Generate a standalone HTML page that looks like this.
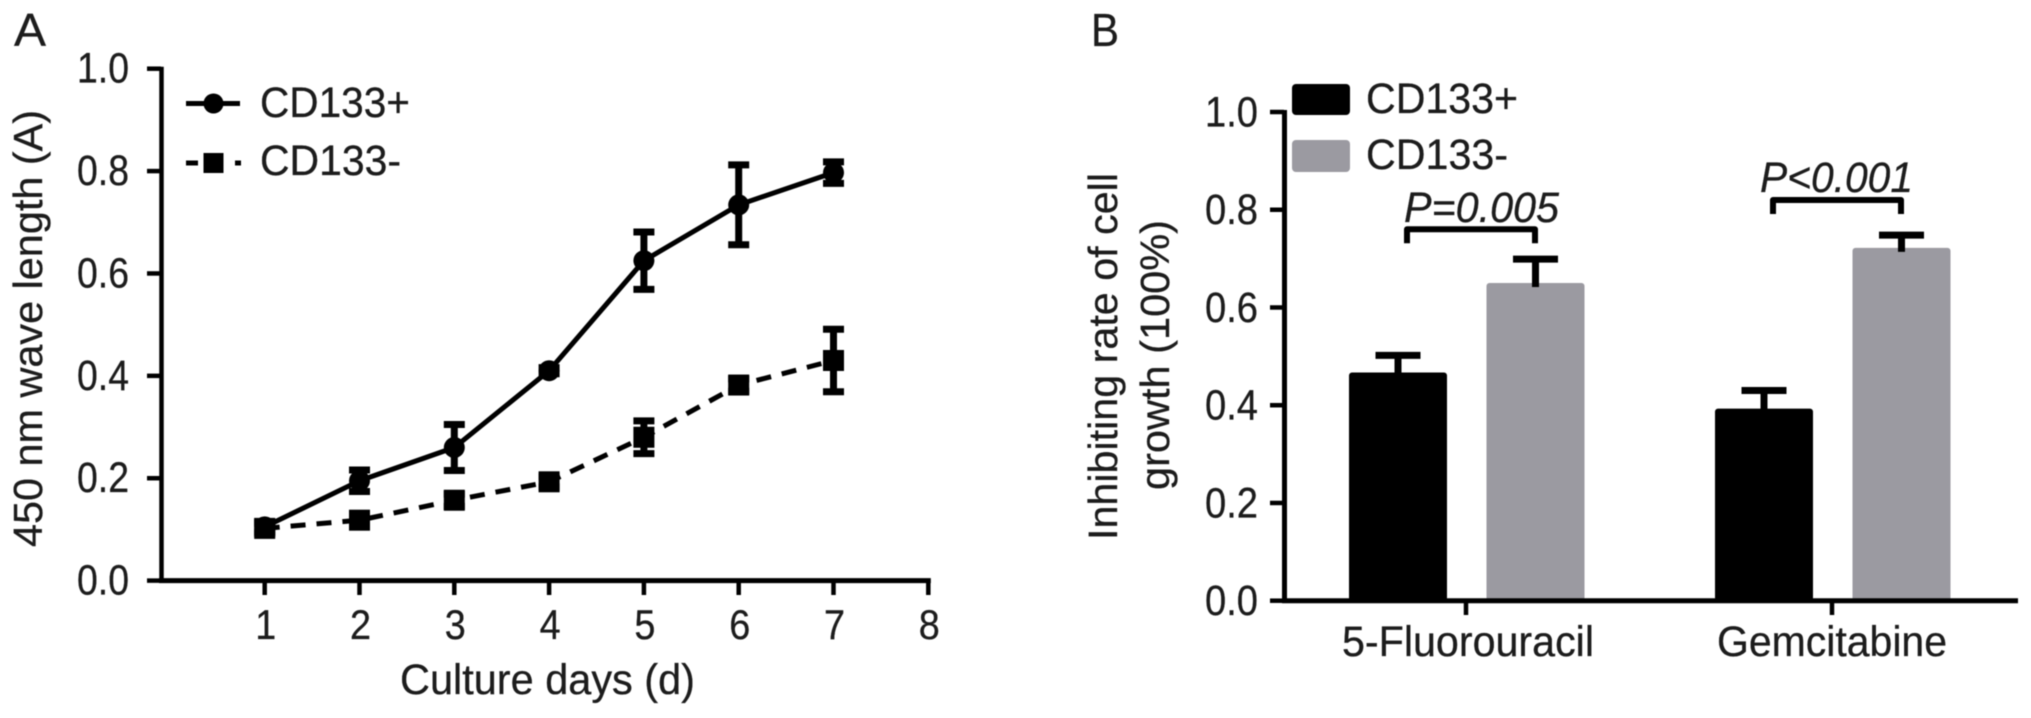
<!DOCTYPE html>
<html lang="en">
<head>
<meta charset="utf-8">
<title>CD133 cell growth and inhibition charts</title>
<style>
html,body{margin:0;padding:0;background:#fff;width:2031px;height:718px;overflow:hidden}
svg{display:block;filter:blur(0.6px)}
text{font-family:"Liberation Sans",sans-serif;fill:#1c1c1c;stroke:#1c1c1c;stroke-width:0.3px}
</style>
</head>
<body>
<svg id="figure" xmlns="http://www.w3.org/2000/svg" width="2031" height="718" viewBox="0 0 2031 718">
  <text x="14" y="46" font-size="46" textLength="32" lengthAdjust="spacingAndGlyphs">A</text>
  <text x="1091" y="46" font-size="46" textLength="28" lengthAdjust="spacingAndGlyphs">B</text>

  <g id="panelA"></g>
  <g>
    <line x1="186" x2="240" y1="103.5" y2="103.5" stroke="#000" stroke-width="5"/>
    <circle cx="213.5" cy="103.5" r="10" fill="#000"/>
    <line x1="186" x2="241" y1="163" y2="163" stroke="#000" stroke-width="5" stroke-dasharray="12 37 6"/>
    <rect x="203.5" y="153" width="20" height="20" fill="#000"/>
    <text x="260" y="117" font-size="43" textLength="150" lengthAdjust="spacingAndGlyphs">CD133+</text>
    <text x="260" y="175" font-size="43" textLength="141" lengthAdjust="spacingAndGlyphs">CD133-</text>
  </g>
  <text transform="translate(42,547) rotate(-90)" font-size="41" textLength="437" lengthAdjust="spacingAndGlyphs">450 nm wave length (A)</text>
  <text x="400" y="694" font-size="43" textLength="295" lengthAdjust="spacingAndGlyphs">Culture days (d)</text>

  <g id="panelB"></g>
  <g>
    <rect x="1292" y="84" width="58" height="31" rx="4" fill="#000"/>
    <rect x="1292" y="140" width="58" height="32" rx="4" fill="#9b9aa1"/>
    <text x="1366" y="113" font-size="43" textLength="152" lengthAdjust="spacingAndGlyphs">CD133+</text>
    <text x="1366" y="169" font-size="43" textLength="142" lengthAdjust="spacingAndGlyphs">CD133-</text>
  </g>
  <text transform="translate(1117,540) rotate(-90)" font-size="41" textLength="367" lengthAdjust="spacingAndGlyphs">Inhibiting rate of cell</text>
  <text transform="translate(1169,490) rotate(-90)" font-size="41" textLength="270" lengthAdjust="spacingAndGlyphs">growth (100%)</text>
  <text x="1404" y="222" font-size="43" font-style="italic" textLength="155" lengthAdjust="spacingAndGlyphs">P=0.005</text>
  <text x="1760" y="192" font-size="43" font-style="italic" textLength="153" lengthAdjust="spacingAndGlyphs">P&lt;0.001</text>
</svg>
<script>
// Panel A data
const days = [1, 2, 3, 4, 5, 6, 7];
const dayTicks = [1, 2, 3, 4, 5, 6, 7, 8];
const growthTicks = ['0.0', '0.2', '0.4', '0.6', '0.8', '1.0'];
const positiveValues = [0.105, 0.195, 0.26, 0.41, 0.625, 0.734, 0.797];
const positiveErrors = [0.01, 0.021, 0.045, 0.006, 0.056, 0.078, 0.021];
const negativeValues = [0.102, 0.118, 0.157, 0.193, 0.28, 0.382, 0.43];
const negativeErrors = [0.01, 0.012, 0.012, 0.01, 0.032, 0.012, 0.061];
// Panel B data
const drugs = ['5-Fluorouracil', 'Gemcitabine'];
const drugLabelWidths = [252, 230];
const inhibitionTicks = ['0.0', '0.2', '0.4', '0.6', '0.8', '1.0'];
const inhibitionPositive = [0.467, 0.393];
const inhibitionPositiveErrors = [0.035, 0.037];
const inhibitionNegative = [0.65, 0.722];
const inhibitionNegativeErrors = [0.049, 0.026];
const bracketLevels = [0.76, 0.82];

const NS = 'http://www.w3.org/2000/svg';
function make(parent, tag, attrs, name) {
  const el = document.createElementNS(NS, tag);
  for (const k in attrs) el.setAttribute(k, attrs[k]);
  
  
  parent.appendChild(el);
  return el;
}
function label(parent, x, y, str, size, anchor, len, name) {
  const t = make(parent, 'text', {x: x, y: y, 'font-size': size, 'text-anchor': anchor, textLength: len, lengthAdjust: 'spacingAndGlyphs'}, name);
  t.textContent = str;
  return t;
}
function errorBar(parent, x, yLow, yHigh, capHalf, width, name) {
  make(parent, 'line', {x1: x, x2: x, y1: yLow, y2: yHigh, stroke: '#000', 'stroke-width': width}, name + '-stem');
  make(parent, 'line', {x1: x - capHalf, x2: x + capHalf, y1: yHigh, y2: yHigh, stroke: '#000', 'stroke-width': width}, name + '-cap-top');
}

// Panel A
(function () {
  const g = document.getElementById('panelA');
  const xA = d => 264.7 + (d - 1) * 94.8;
  const yA = v => 580.6 - v * 511.9;
  make(g, 'line', {x1: 161.5, x2: 161.5, y1: yA(1) - 2, y2: yA(0) + 2, stroke: '#000', 'stroke-width': 4.5}, 'y-axis-line-growth');
  make(g, 'line', {x1: 159, x2: xA(8) + 2.5, y1: yA(0), y2: yA(0), stroke: '#000', 'stroke-width': 5}, 'x-axis-line-growth');
  growthTicks.forEach(t => {
    const v = parseFloat(t);
    make(g, 'line', {x1: 147, x2: 161, y1: yA(v), y2: yA(v), stroke: '#000', 'stroke-width': 4.5}, 'y-tick-growth-' + t);
    label(g, 129, yA(v) + 14, t, 43, 'end', 52, 'y-tick-label-growth-' + t);
  });
  dayTicks.forEach(d => {
    make(g, 'line', {x1: xA(d), x2: xA(d), y1: yA(0), y2: 595, stroke: '#000', 'stroke-width': 4.5}, 'x-tick-growth-' + d);
    label(g, xA(d) + 1, 639, String(d), 42, 'middle', 21, 'x-tick-label-growth-' + d);
  });
  const path = vals => vals.map((v, i) => (i ? 'L' : 'M') + xA(days[i]) + ' ' + yA(v)).join(' ');
  make(g, 'path', {d: path(positiveValues), fill: 'none', stroke: '#000', 'stroke-width': 5}, 'line-cd133-positive');
  make(g, 'path', {d: path(negativeValues), fill: 'none', stroke: '#000', 'stroke-width': 5, 'stroke-dasharray': '15 11'}, 'line-cd133-negative');
  days.forEach((d, i) => {
    const x = xA(d), v = positiveValues[i], e = positiveErrors[i];
    make(g, 'line', {x1: x, x2: x, y1: yA(v - e), y2: yA(v + e), stroke: '#000', 'stroke-width': 7}, 'error-stem-positive-' + d);
    [v - e, v + e].forEach(c => make(g, 'line', {x1: x - 10.5, x2: x + 10.5, y1: yA(c), y2: yA(c), stroke: '#000', 'stroke-width': 7}, 'error-cap-positive-' + d));
    make(g, 'circle', {cx: x, cy: yA(v), r: 10.5, fill: '#000'}, 'point-positive-' + d);
  });
  days.forEach((d, i) => {
    const x = xA(d), v = negativeValues[i], e = negativeErrors[i];
    make(g, 'line', {x1: x, x2: x, y1: yA(v - e), y2: yA(v + e), stroke: '#000', 'stroke-width': 7}, 'error-stem-negative-' + d);
    [v - e, v + e].forEach(c => make(g, 'line', {x1: x - 10.5, x2: x + 10.5, y1: yA(c), y2: yA(c), stroke: '#000', 'stroke-width': 7}, 'error-cap-negative-' + d));
    make(g, 'rect', {x: x - 10.5, y: yA(v) - 10.5, width: 21, height: 21, fill: '#000'}, 'point-negative-' + d);
  });
})();

// Panel B
(function () {
  const g = document.getElementById('panelB');
  const yB = v => 600.7 - v * 488.7;
  const center = i => 1466 + i * 366;
  const barW = 98;
  const posX = i => center(i) - 117;
  const negX = i => center(i) + 20.5;
  inhibitionTicks.forEach(t => {
    const v = parseFloat(t);
    make(g, 'line', {x1: 1270, x2: 1284, y1: yB(v), y2: yB(v), stroke: '#000', 'stroke-width': 4.5}, 'y-tick-inhibition-' + t);
    label(g, 1258, yB(v) + 14.5, t, 43, 'end', 53, 'y-tick-label-inhibition-' + t);
  });
  drugs.forEach((name, i) => {
    const p = inhibitionPositive[i], pe = inhibitionPositiveErrors[i];
    const n = inhibitionNegative[i], ne = inhibitionNegativeErrors[i];
    const px = posX(i), nx = negX(i);
    errorBar(g, px + barW / 2, yB(p) + 4, yB(p + pe), 22.5, 7, 'error-positive-' + i);
    make(g, 'rect', {x: px, y: yB(p), width: barW, height: yB(0) - yB(p), rx: 3, fill: '#000'}, 'bar-cd133-positive-' + i);
    make(g, 'rect', {x: nx, y: yB(n), width: barW, height: yB(0) - yB(n), rx: 3, fill: '#9b9aa1'}, 'bar-cd133-negative-' + i);
    errorBar(g, nx + barW / 2, yB(n) + 4, yB(n + ne), 22.5, 7, 'error-negative-' + i);
    make(g, 'line', {x1: center(i), x2: center(i), y1: yB(0), y2: 615, stroke: '#000', 'stroke-width': 4.5}, 'x-tick-inhibition-' + i);
    label(g, center(i) + (i ? 0 : 2), 656, name, 43, 'middle', drugLabelWidths[i], 'x-tick-label-inhibition-' + i);
    const by = yB(bracketLevels[i]);
    const bx1 = center(i) - 59, bx2 = center(i) + 69;
    make(g, 'path', {d: 'M' + bx1 + ' ' + (by + 14) + ' V' + by + ' H' + bx2 + ' V' + (by + 14), fill: 'none', stroke: '#000', 'stroke-width': 6, 'stroke-linejoin': 'round'}, 'significance-bracket-' + i);
  });
  make(g, 'line', {x1: 1284.5, x2: 1284.5, y1: yB(1) - 2, y2: yB(0) + 2, stroke: '#000', 'stroke-width': 5}, 'y-axis-line-inhibition');
  make(g, 'line', {x1: 1282, x2: 2018, y1: yB(0), y2: yB(0), stroke: '#000', 'stroke-width': 5}, 'x-axis-line-inhibition');
})();
</script>
</body>
</html>
